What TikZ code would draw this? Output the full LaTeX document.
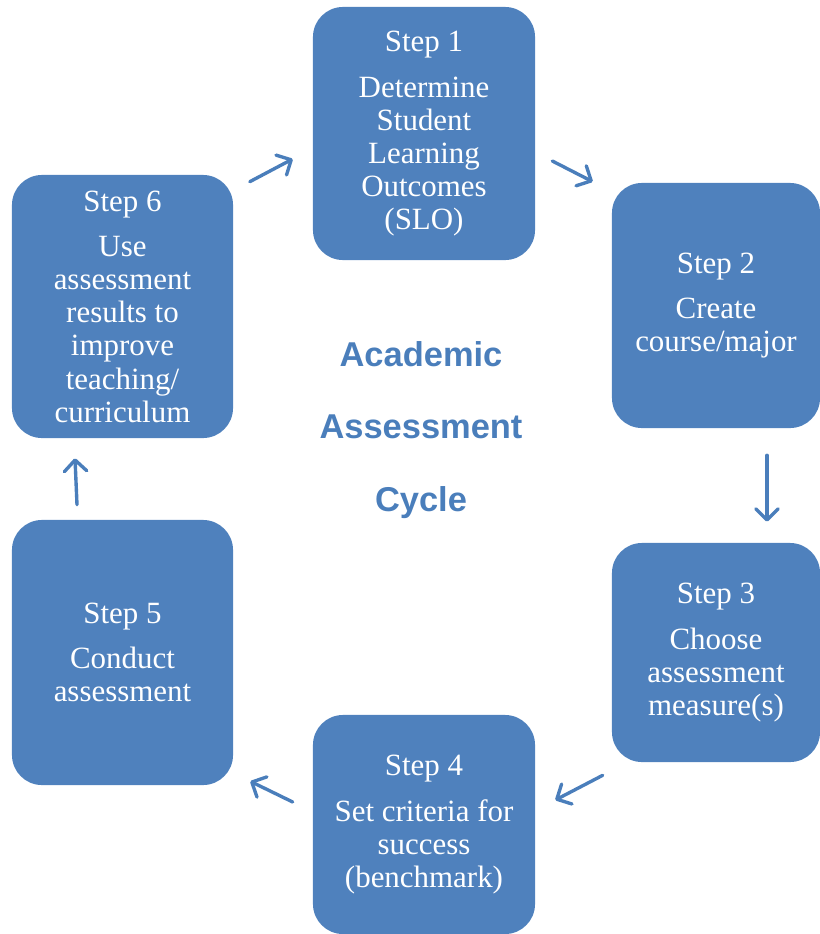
\documentclass[tikz,border=0pt]{standalone}
\usepackage{fontspec}
\setmainfont{Liberation Serif}
\newfontfamily\titlefont{Liberation Sans}
\usetikzlibrary{arrows.meta}
\definecolor{stepblue}{HTML}{4F81BD}
\definecolor{cycleblue}{HTML}{4A7EBB}

\begin{document}
\begin{tikzpicture}[x=0.025cm,y=-0.025cm,
  stepbox/.style={fill=stepblue, draw=none, rounded corners=0.75cm, text=white,
    align=center, inner sep=2pt, font=\fontsize{22}{23.5}\selectfont},
  cyc/.style={draw=cycleblue, line width=2.4pt, line cap=round,
    -{Straight Barb[length=8pt,width=16pt,round]}}]
\useasboundingbox (0,0) rectangle (820,934);
\node[stepbox, minimum width=5.55cm, minimum height=6.325cm] (s1) at (424,133.5)
  {Step 1\\[9pt]Determine\\Student\\Learning\\Outcomes\\(SLO)};
\node[stepbox, minimum width=5.2cm, minimum height=6.125cm] (s2) at (716,305.5)
  {Step 2\\[9pt]Create\\course/major};
\node[stepbox, minimum width=5.2cm, minimum height=5.475cm] (s3) at (716,652.5)
  {Step 3\\[9pt]Choose\\assessment\\measure(s)};
\node[stepbox, minimum width=5.55cm, minimum height=5.475cm] (s4) at (424,824.5)
  {Step 4\\[9pt]Set criteria for\\success\\(benchmark)};
\node[stepbox, minimum width=5.525cm, minimum height=6.625cm] (s5) at (122.5,652.5)
  {Step 5\\[9pt]Conduct\\assessment};
\node[stepbox, minimum width=5.525cm, minimum height=6.575cm] (s6) at (122.5,306.5)
  {Step 6\\[9pt]Use\\assessment\\results to\\improve\\teaching/\\curriculum};
% centre title
\node[text=cycleblue, align=center, font=\titlefont\bfseries\fontsize{24.5}{51.5}\selectfont]
  (title) at (421,430) {Academic\\Assessment\\Cycle};
% cycle arrows
\draw[cyc] ([shift={(16.5,7)}]s6.north east) -- ([shift={(-20,25.5)}]s1.west);
\draw[cyc] ([shift={(17,27.5)}]s1.east) -- ([shift={(-19,-1)}]s2.north west);
\draw[cyc] ([shift={(51,27)}]s2.south) -- ([shift={(51,-21)}]s3.north);
\draw[cyc] ([shift={(-9,13)}]s3.south west) -- ([shift={(20,-24.5)}]s4.east);
\draw[cyc] ([shift={(-20,-22.5)}]s4.west) -- ([shift={(17,-4)}]s5.south east);
\draw[cyc] ([shift={(-45.5,-15)}]s5.north) -- ([shift={(-47.5,20)}]s6.south);
\end{tikzpicture}
\end{document}
